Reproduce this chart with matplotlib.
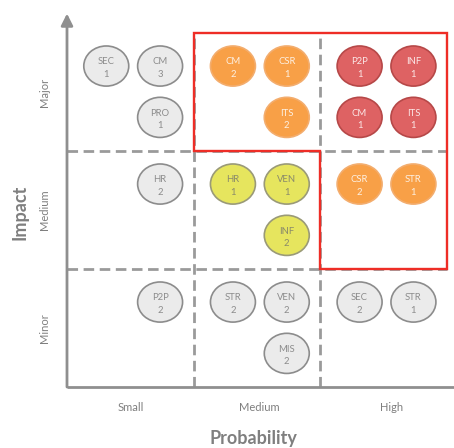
import matplotlib
matplotlib.use("Agg")
import matplotlib.pyplot as plt
from matplotlib.patches import Ellipse
from matplotlib.path import Path
from matplotlib.patches import PathPatch

plt.rcParams['font.family'] = ['Lato', 'DejaVu Sans']

# Risk matrix entries
risk_ids = ['SEC', 'CM', 'PRO', 'CM', 'CSR', 'ITS', 'P2P', 'INF', 'CM', 'ITS',
            'HR', 'HR', 'VEN', 'INF', 'CSR', 'STR',
            'P2P', 'STR', 'VEN', 'MIS', 'SEC', 'STR']
counts = [1, 3, 1, 2, 1, 2, 1, 1, 1, 1,
          2, 1, 1, 2, 2, 1,
          2, 2, 2, 2, 2, 1]
probability = ['Small', 'Small', 'Small', 'Medium', 'Medium', 'Medium', 'High', 'High', 'High', 'High',
               'Small', 'Medium', 'Medium', 'Medium', 'High', 'High',
               'Small', 'Medium', 'Medium', 'Medium', 'High', 'High']
impact = ['Major'] * 10 + ['Medium'] * 6 + ['Minor'] * 6
slot_col = [0, 1, 1, 0, 1, 1, 0, 1, 0, 1,
            1, 0, 1, 1, 0, 1,
            1, 0, 1, 1, 0, 1]
slot_row = [0, 0, 1, 0, 0, 1, 0, 0, 1, 1,
            0, 0, 0, 1, 0, 0,
            0, 0, 0, 1, 0, 0]
severity = ['low', 'low', 'low', 'high', 'high', 'high', 'critical', 'critical', 'critical', 'critical',
            'low', 'moderate', 'moderate', 'moderate', 'high', 'high',
            'low', 'low', 'low', 'low', 'low', 'low']

prob_levels = ['Small', 'Medium', 'High']
impact_levels = ['Minor', 'Medium', 'Major']

styles = {
    'low':      dict(face='#ebebeb', edge='#8c8c8c', text='#8c8c8c'),
    'moderate': dict(face='#e6e55e', edge='#9a9a78', text='#8a8a6a'),
    'high':     dict(face='#f8a047', edge='#f3ad6e', text='#fdf0e2'),
    'critical': dict(face='#de6263', edge='#b64848', text='#fbe6e6'),
}

W, H = 454, 448
fig = plt.figure(figsize=(W / 100, H / 100), dpi=100)
fig.patch.set_facecolor('white')
ax = fig.add_axes([67 / W, (H - 387) / H, 380 / W, 354 / H])
ax.set_xlim(0, 3)
ax.set_ylim(0, 3)
ax.axis('off')

grey = '#8f8f8f'
dash_grey = '#9a9a9a'

# Grid of dashed separators
for xv in (1, 2):
    ax.plot([xv, xv], [0, 2.96], color=dash_grey, lw=2.0, ls=(0, (3.8, 2.0)), zorder=1, clip_on=False)
for yv in (1, 2):
    ax.plot([0, 3], [yv, yv], color=dash_grey, lw=2.0, ls=(0, (3.8, 2.0)), zorder=1, clip_on=False)

# High-risk zone outline
zone = [(1, 3), (3, 3), (3, 1), (2, 1), (2, 2), (1, 2), (1, 3)]
codes = [Path.MOVETO] + [Path.LINETO] * (len(zone) - 2) + [Path.CLOSEPOLY]
ax.add_patch(PathPatch(Path(zone, codes), fill=False, edgecolor='#ee2d26', lw=1.7, zorder=2, clip_on=False,
                       joinstyle='miter'))

# Axes lines
ax.plot([0, 3.06], [0, 0], color=grey, lw=2.0, zorder=3, clip_on=False, solid_capstyle='butt')
ax.annotate('', xy=(0, 3.165), xytext=(0, 0), annotation_clip=False,
            arrowprops=dict(arrowstyle='-|>,head_length=0.7,head_width=0.35', color=grey, lw=2.0,
                            shrinkA=0, shrinkB=0), zorder=3)

x_offsets = [0.31, 0.735]
y_offsets = [0.72, 0.285]
bw, bh = 0.355, 0.34

for rid, cnt, p, im, sc, sr, sev in zip(risk_ids, counts, probability, impact, slot_col, slot_row, severity):
    x = prob_levels.index(p) + x_offsets[sc]
    y = impact_levels.index(im) + y_offsets[sr]
    st = styles[sev]
    ax.add_patch(Ellipse((x, y), bw, bh, facecolor=st['face'], edgecolor=st['edge'], lw=1.2, zorder=4))
    ax.text(x, y + 0.036, rid, ha='center', va='center', fontsize=6.8, color=st['text'], zorder=5)
    ax.text(x, y - 0.072, str(cnt), ha='center', va='center', fontsize=6.8, color=st['text'], zorder=5)

# Category labels
label_grey = '#7f7f7f'
for lab, xp in zip(prob_levels, [0.5, 1.52, 2.56]):
    ax.text(xp, -0.17, lab, ha='center', va='center', fontsize=8, color=label_grey, clip_on=False)
for i, lab in enumerate(impact_levels):
    ax.text(-0.18, i + 0.5, lab, ha='center', va='center', rotation=90, fontsize=8,
            color=label_grey, clip_on=False)

fig.text(253 / W, 1 - 444 / H, 'Probability', ha='center', va='baseline', fontsize=13,
         fontweight='bold', color=label_grey)
fig.text(20 / W, 1 - 212 / H, 'Impact', ha='center', va='center', fontsize=13,
         fontweight='bold', color=label_grey, rotation=90)

fig.savefig('out.png', dpi=100, facecolor='white')
